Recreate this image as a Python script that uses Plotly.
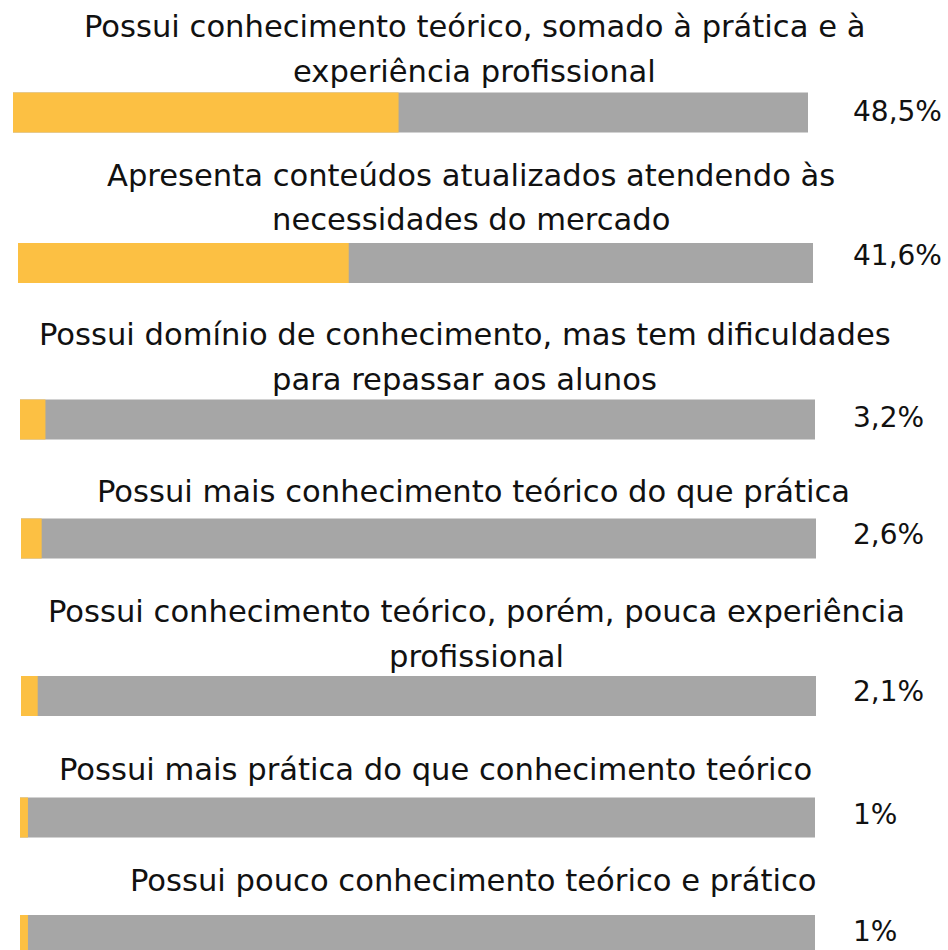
import plotly.graph_objects as go

# ---- data ----
title_lines = [
    ["Possui conhecimento teórico, somado à prática e à", "experiência profissional"],
    ["Apresenta conteúdos atualizados atendendo às", "necessidades do mercado"],
    ["Possui domínio de conhecimento, mas tem dificuldades", "para repassar aos alunos"],
    ["Possui mais conhecimento teórico do que prática"],
    ["Possui conhecimento teórico, porém, pouca experiência", "profissional"],
    ["Possui mais prática do que conhecimento teórico"],
    ["Possui pouco conhecimento teórico e prático"],
]
values = [48.5, 41.6, 3.2, 2.6, 2.1, 1, 1]
value_labels = ["48,5%", "41,6%", "3,2%", "2,6%", "2,1%", "1%", "1%"]
total = [100] * 7

# ---- layout positions (pixels) ----
W, H = 948, 950
bar_center_px = [112.5, 263, 419.5, 538.5, 696, 817.5, 935]
bar_shift_px = [-7, -2, 0, 1, 1, 0, 0]
title_center_x_px = [474, 471, 464.5, 473, 476, 435, 472.5]
title_line_y_px = [[28, 73], [177, 221], [336, 381], [493], [612.5, 657.5], [771], [882]]
label_y_px = [112, 256, 418, 535, 692.5, 815, 932]
label_x_px = 851

X0_PX, X100_PX = 20, 815
ppu = (X100_PX - X0_PX) / 100.0
x_range = [-X0_PX / ppu, (W - X0_PX) / ppu]
bases = [s / ppu for s in bar_shift_px]

YELLOW = "#FCC043"
GRAY = "#A6A6A6"
FONT = "DejaVu Sans"
FS = 30.6
FS_LABEL = 28
DY = -1.5

fig = go.Figure()
fig.add_trace(go.Bar(x=total, y=bar_center_px, base=bases, orientation="h",
                     width=40, marker=dict(color=GRAY, line=dict(width=0)),
                     hoverinfo="skip", showlegend=False))
fig.add_trace(go.Bar(x=values, y=bar_center_px, base=bases, orientation="h",
                     width=40, marker=dict(color=YELLOW, line=dict(width=0)),
                     showlegend=False))

annotations = []
for i, lines in enumerate(title_lines):
    for j, line in enumerate(lines):
        annotations.append(dict(
            text=line, xref="paper", yref="y",
            x=title_center_x_px[i] / W, y=title_line_y_px[i][j] + DY,
            xanchor="center", yanchor="middle", showarrow=False,
            height=35,
            font=dict(family=FONT, size=FS, color="#111111")))
    annotations.append(dict(
        text=value_labels[i], xref="paper", yref="y",
        x=label_x_px / W, y=label_y_px[i] + DY,
        xanchor="left", yanchor="middle", showarrow=False,
        height=30,
        font=dict(family=FONT, size=FS_LABEL, color="#111111")))

fig.update_layout(
    width=W, height=H,
    margin=dict(l=0, r=0, t=0, b=0),
    barmode="overlay",
    plot_bgcolor="white", paper_bgcolor="white",
    xaxis=dict(range=x_range, visible=False, fixedrange=True),
    yaxis=dict(range=[H, 0], visible=False, fixedrange=True),
    annotations=annotations,
)

fig.write_html("out.html")
